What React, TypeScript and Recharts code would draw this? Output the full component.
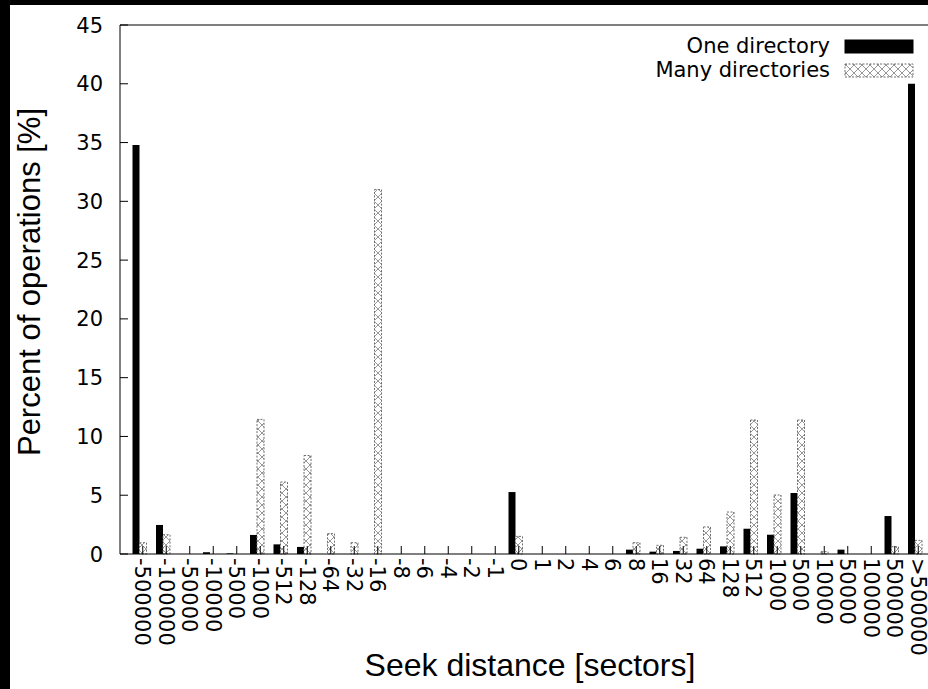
import React from "react";
import { BarChart, Bar, XAxis, YAxis, ReferenceLine, Legend } from "recharts";

const distances = [
  "-500000", "-100000", "-50000", "-10000", "-5000", "-1000", "-512", "-128",
  "-64", "-32", "-16", "-8", "-6", "-4", "-2", "-1", "0", "1", "2", "4", "6",
  "8", "16", "32", "64", "128", "512", "1000", "5000", "10000", "50000",
  "100000", "500000", ">500000",
];

const oneDirectory = [
  34.8, 2.47, 0, 0.15, 0.05, 1.62, 0.82, 0.6, 0, 0, 0, 0, 0, 0, 0, 0, 5.27, 0, 0,
  0, 0, 0.37, 0.2, 0.26, 0.45, 0.65, 2.15, 1.64, 5.19, 0, 0.37, 0, 3.23, 40.0,
];

const manyDirectories = [
  0.96, 1.64, 0, 0, 0, 11.45, 6.12, 8.38, 1.73, 0.96, 31.0, 0, 0, 0, 0, 0, 1.5, 0,
  0, 0, 0, 0.96, 0.74, 1.42, 2.3, 3.57, 11.4, 5.02, 11.4, 0.2, 0, 0, 0.62, 1.16,
];

const percentTicks = [0, 5, 10, 15, 20, 25, 30, 35, 40, 45];

const seriesKeys = ["one", "many"];

const rows = distances.map((d, i) => ({
  distance: d,
  one: oneDirectory[i],
  many: manyDirectories[i],
}));

const TITLE_FONT = "'Liberation Sans', Arial, sans-serif";
const TICK_FONT = "'DejaVu Sans', sans-serif";
const HATCH_EDGE = "#6e6e6e";

function SeekTick({ x, y, payload }: any) {
  const tx = x + 3.5;
  const ty = y + 4;
  return (
    <g>
      <line x1={tx} y1={y} x2={tx} y2={y - 8} stroke="#000" />
      <text
        x={tx}
        y={ty}
        dy="0.36em"
        transform={`rotate(90 ${tx} ${ty})`}
        textAnchor="start"
        fontFamily={TICK_FONT}
        fontSize={21}
        fill="#000"
      >
        {payload.value}
      </text>
    </g>
  );
}

function PercentTick({ x, y, payload }: any) {
  return (
    <g>
      <line x1={x} y1={y} x2={x + 8} y2={y} stroke="#000" />
      <text
        x={x - 17}
        y={y}
        dy="0.36em"
        textAnchor="end"
        fontFamily={TICK_FONT}
        fontSize={21}
        fill="#000"
      >
        {payload.value}
      </text>
    </g>
  );
}

// gnuplot style key: right aligned names, swatch on the right
function Key({ payload }: any) {
  const items = [...(payload || [])].sort(
    (a: any, b: any) => seriesKeys.indexOf(a.dataKey) - seriesKeys.indexOf(b.dataKey)
  );
  return (
    <svg width={930} height={90}>
      {items.map((item: any, i: number) => {
        const solid = item.dataKey === "one";
        return (
          <g key={item.value}>
            <text
              x={820}
              y={48 + i * 24}
              textAnchor="end"
              fontFamily={TICK_FONT}
              fontSize={21}
              fill="#000"
            >
              {item.value}
            </text>
            <rect
              x={835}
              y={35 + i * 24}
              width={68}
              height={13}
              fill={solid ? "#000" : "url(#hatch)"}
              stroke={solid ? "#000" : HATCH_EDGE}
              strokeDasharray={solid ? undefined : "2 1.5"}
            />
          </g>
        );
      })}
    </svg>
  );
}

export default function App() {
  return (
    <div
      style={{
        position: "absolute",
        left: 0,
        top: 0,
        width: 928,
        height: 689,
        background: "#000",
      }}
    >
      <div
        style={{
          position: "absolute",
          left: 10,
          top: 5,
          width: 918,
          height: 684,
          background: "#fff",
          overflow: "hidden",
        }}
      >
        <svg width={0} height={0} style={{ position: "absolute" }}>
          <defs>
            <pattern id="hatch" patternUnits="userSpaceOnUse" width={8} height={8}>
              <rect width={8} height={8} fill="#fff" />
              <path d="M0,0 L8,8 M8,0 L0,8" stroke="#8c8c8c" strokeWidth={0.9} />
            </pattern>
          </defs>
        </svg>
        <BarChart
          width={930}
          height={684}
          data={rows}
          margin={{ top: 20, right: 6, left: 0, bottom: 0 }}
          barSize={7}
          barGap={0}
        >
          <XAxis
            dataKey="distance"
            interval={0}
            tickLine={false}
            tickSize={0}
            tickMargin={0}
            height={135}
            padding={{ left: 7.5, right: 7.5 }}
            axisLine={{ stroke: "#000" }}
            tick={<SeekTick />}
            label={{
              content: () => (
                <text
                  x={520}
                  y={671}
                  textAnchor="middle"
                  fontFamily={TITLE_FONT}
                  fontSize={32}
                  fill="#000"
                >
                  Seek distance [sectors]
                </text>
              ),
            }}
          />
          <YAxis
            width={110}
            domain={[0, 45]}
            ticks={percentTicks}
            interval={0}
            tickLine={false}
            tickSize={0}
            tickMargin={0}
            axisLine={{ stroke: "#000" }}
            tick={<PercentTick />}
            label={{
              content: () => (
                <text
                  x={30}
                  y={277}
                  transform="rotate(-90 30 277)"
                  textAnchor="middle"
                  fontFamily={TITLE_FONT}
                  fontSize={31}
                  fill="#000"
                >
                  Percent of operations [%]
                </text>
              ),
            }}
          />
          <ReferenceLine y={45} stroke="#000" />
          <Legend
            layout="vertical"
            align="center"
            verticalAlign="middle"
            wrapperStyle={{ left: 0, top: 0, width: 930, height: 90 }}
            content={<Key />}
          />
          <Bar dataKey="one" name="One directory" fill="#000" isAnimationActive={false} />
          <Bar
            dataKey="many"
            name="Many directories"
            fill="url(#hatch)"
            stroke={HATCH_EDGE}
            strokeDasharray="2 1.5"
            strokeWidth={1}
            isAnimationActive={false}
          />
        </BarChart>
      </div>
    </div>
  );
}
